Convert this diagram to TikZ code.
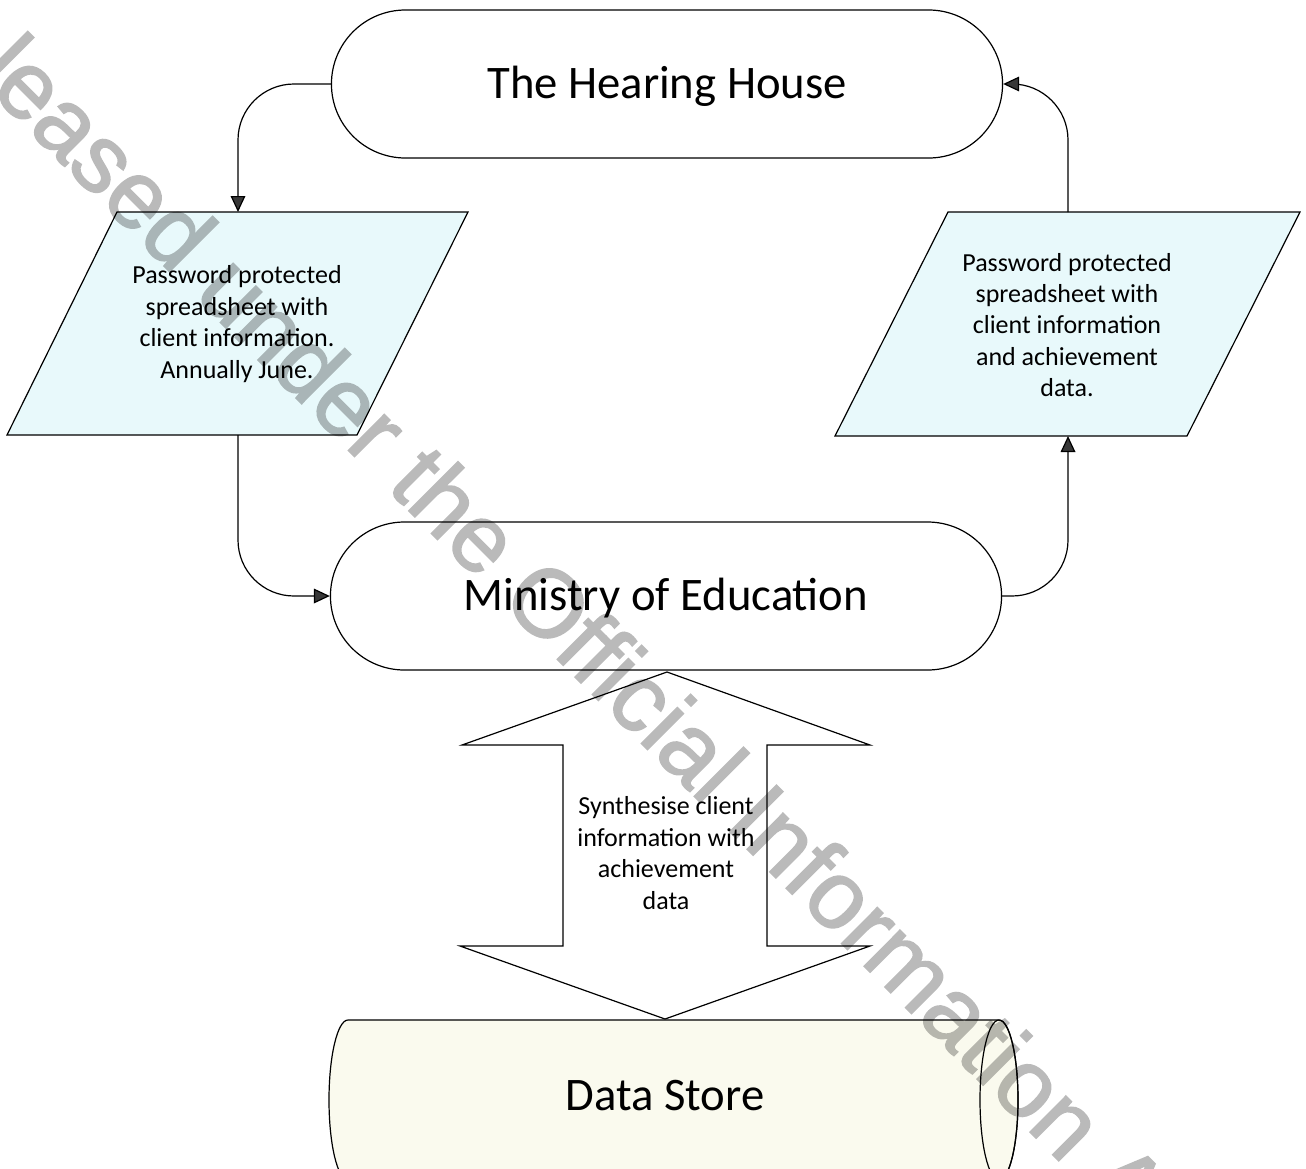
\documentclass[tikz,border=0pt]{standalone}
\usepackage{fontspec}
\setmainfont{Carlito}
\newfontfamily\stampfont[FakeBold=1.6]{Liberation Sans}
\usetikzlibrary{shapes.misc,arrows.meta}

\definecolor{sheetcyan}{RGB}{232,249,251}
\definecolor{storecream}{RGB}{250,250,238}
\definecolor{tipgrey}{RGB}{55,55,55}

\tikzset{
  party/.style={rounded rectangle, draw, line width=0.9pt, fill=white,
    minimum width=510pt, minimum height=111pt, text height=25pt, text depth=4pt,
    font=\fontsize{35}{42}\selectfont},
  sheet/.style={draw, line width=0.9pt, fill=sheetcyan},
  flow/.style={line width=0.9pt, rounded corners=42pt,
    -{Triangle[length=12pt,width=11pt,fill=tipgrey]}},
  note/.style={align=center, font=\fontsize{19.5}{23.6}\selectfont},
  stamp/.style={text=black, font=\stampfont\fontsize{72}{72}\selectfont},
}

\begin{document}
\begin{tikzpicture}[x=0.75pt,y=0.75pt,yscale=-1,xscale=1]
    \useasboundingbox (0,0) rectangle (1306,1168);
    \clip (0,0) rectangle (1306,1168);
    % the two parties
    \node[party] (house) at (667,84) {The Hearing House};
    \node[party] (moe) at (666,596) {Ministry of Education};
    % spreadsheets passed between them
    \draw[sheet] (117,212) -- (468,212) -- (357,435) -- (7,435) -- cycle;
    \draw[sheet] (948,212) -- (1300,212) -- (1187,436) -- (835,436) -- cycle;
    \coordinate (outtop) at (238,212);
    \coordinate (outfoot) at (238,435);
    \coordinate (backtop) at (1068,212);
    \coordinate (backfoot) at (1068,436);
    \node[note] (sheetout) at (237,324) {Password protected\\spreadsheet with\\client information.\\Annually June.};
    \node[note] (sheetback) at (1067,325) {Password protected\\spreadsheet with\\client information\\and achievement\\data.};
    \draw[flow] (house.west) -| (outtop);
    \draw[flow] (outfoot) |- (moe.west);
    \draw[flow] (moe.east) -| (backfoot);
    \draw[flow] (backtop) |- (house.east);
    % data store, open at the left, end cap at the right
    \draw[line width=0.9pt, fill=storecream] (999,1020) -- (348,1020)
      arc[start angle=270, end angle=90, x radius=19, y radius=80] -- (999,1180)
      arc[start angle=90, end angle=-90, x radius=19, y radius=80] -- cycle;
    \draw[line width=0.9pt] (999,1100) ellipse[x radius=19, y radius=80];
    \node[font=\fontsize{35}{42}\selectfont] (store) at (665,1096) {Data Store};
    % two-way transfer
    \draw[line width=0.9pt, fill=white] (667,672) -- (870,745) -- (767,745) -- (767,946) -- (870,946) -- (665,1019)
      -- (460,946) -- (563,946) -- (563,745) -- (462,745) -- cycle;
    \node[note] (synth) at (666,853) {Synthesise client\\information with\\achievement\\data};
    \begin{scope}[transparency group, opacity=0.27]
      \node[stamp, anchor=base west, rotate=-45] (release) at (-116,-14) {Released under the Official Information Act};
    \end{scope}
\end{tikzpicture}
\end{document}
